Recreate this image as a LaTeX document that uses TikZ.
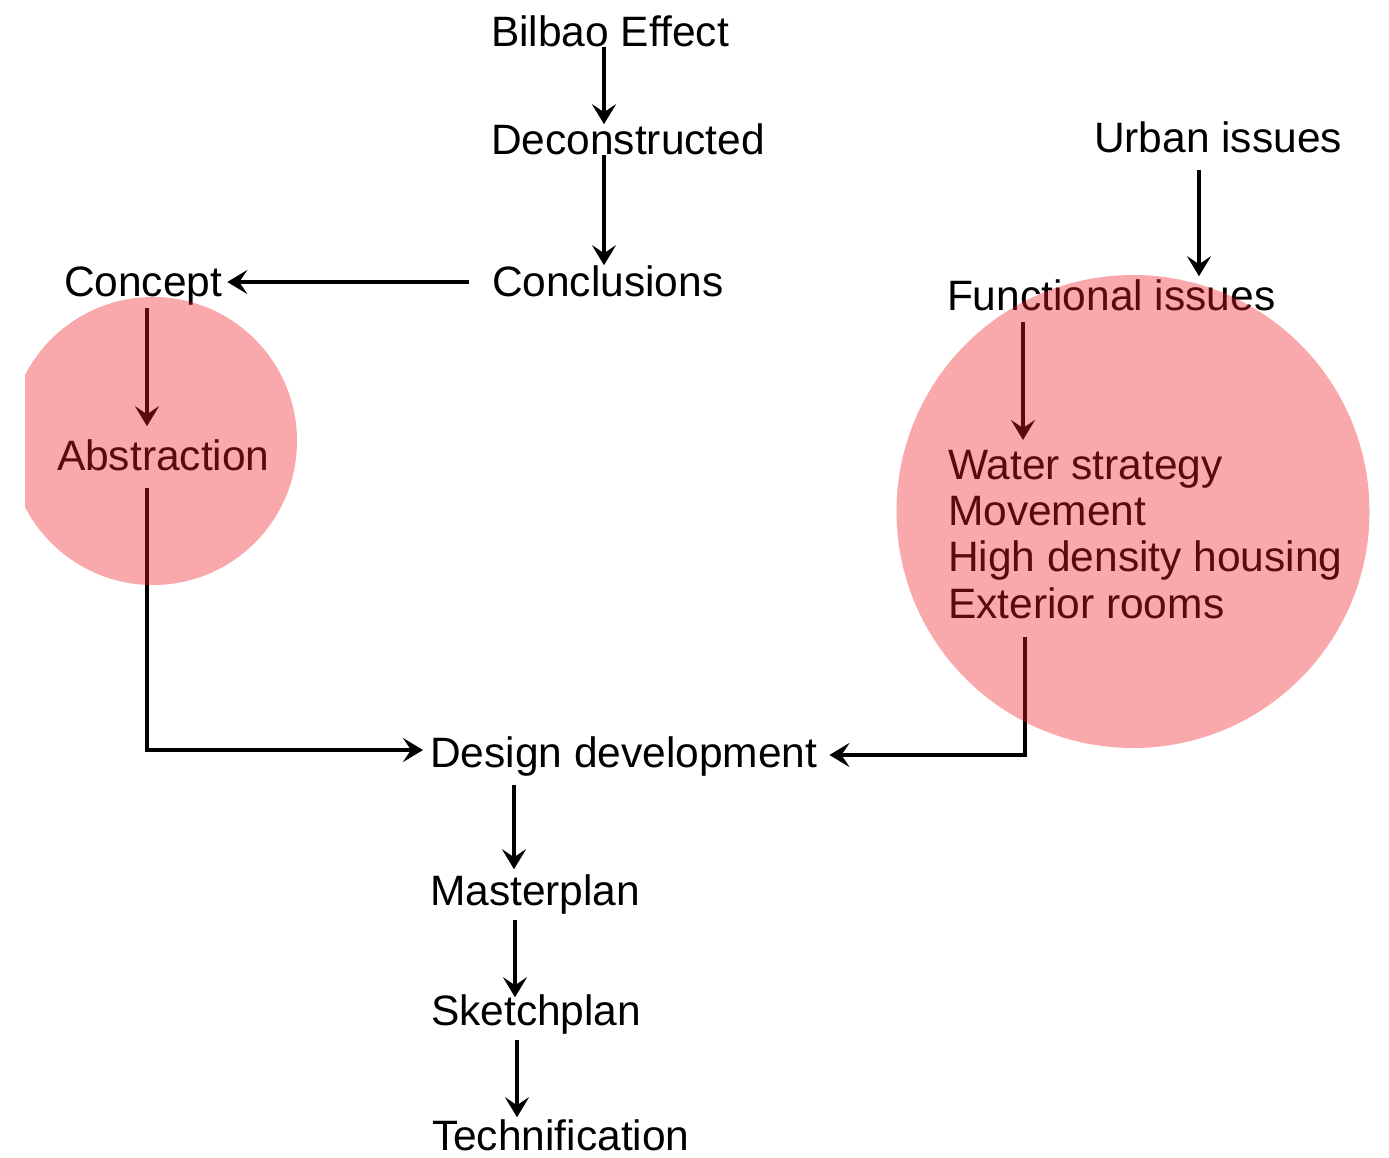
\documentclass[tikz,border=0pt]{standalone}
\usepackage{fontspec}
\setmainfont{Liberation Sans}
\usetikzlibrary{arrows.meta,calc}
\definecolor{blobred}{RGB}{240,25,35}
\begin{document}
\begin{tikzpicture}[x=1pt,y=-1pt,
  lbl/.style={inner sep=0pt,outer sep=0pt,anchor=base west,font=\fontsize{42.5}{46.3}\selectfont},
  arr/.style={line width=4.5pt,-{Stealth[length=20pt,width=24pt,inset=8pt]}},
  blob/.style={fill=blobred,fill opacity=0.38,draw=none}]
\useasboundingbox (0,0) rectangle (1389,1158);
% nodes
\node[lbl] (bilbao) at (491,47) {Bilbao Effect};
\node[lbl] (decon) at (491,155) {Deconstructed};
\node[lbl] (concl) at (492,297) {Conclusions};
\node[lbl] (urban) at (1094,153) {Urban issues};
\node[lbl] (func) at (947,310) {Functional issues};
\node[lbl] (concept) at (64,297) {Concept};
\node[lbl] (abstr) at (57,470) {Abstraction};
\node[lbl,anchor=north west,align=left] (list) at (948,450) {Water strategy\\Movement\\High density housing\\Exterior rooms};
\node[lbl] (design) at (430,767) {Design development};
\node[lbl] (master) at (430,905) {Masterplan};
\node[lbl] (sketch) at (431,1025) {Sketchplan};
\node[lbl] (techn) at (432,1150) {Technification};
% column coordinates
\coordinate (c604) at (604,0);
\coordinate (c1199) at (1199,0);
\coordinate (c1023) at (1023,0);
\coordinate (c1025) at (1025,0);
\coordinate (c147) at (147,0);
\coordinate (c514) at (514,0);
\coordinate (c515) at (515,0);
\coordinate (c517) at (517,0);
% connectors
\draw[arr] (bilbao.south -| c604) -- (decon.north -| c604);
\draw[arr] (decon.south -| c604) -- ([yshift=1pt]concl.north -| c604);
\coordinate (s1) at ([xshift=-23pt,yshift=15pt]concl.base west);
\coordinate (e1) at ([xshift=5pt]concept.east);
\draw[arr] (s1) -- (e1 |- s1);
\draw[arr] ([yshift=-2pt]concept.south -| c147) -- ([yshift=13pt]abstr.north -| c147);
\coordinate (e2) at ([xshift=-7pt,yshift=17pt]design.base west);
\draw[arr] ([yshift=-18pt]abstr.south -| c147) |- (e2);
\draw[arr] ([yshift=-17pt]urban.south -| c1199) -- ([yshift=3pt]func.north -| c1199);
\draw[arr] ([yshift=-12pt]func.south -| c1023) -- ([yshift=10pt]list.north -| c1023);
\coordinate (e3) at ([xshift=12pt,yshift=12pt]design.base east);
\draw[arr] ([yshift=-18pt]list.south -| c1025) |- (e3);
\draw[arr] ([yshift=-9pt]design.south -| c514) -- ([yshift=5pt]master.north -| c514);
\draw[arr] ([yshift=-6pt]master.south -| c515) -- ([yshift=-3pt]sketch.north -| c515);
\draw[arr] ([yshift=-6pt]sketch.south -| c517) -- ([yshift=2pt]techn.north -| c517);
% translucent circles on top
\begin{scope}
\clip (25,0) rectangle (1389,1158);
\fill[blob] (153,441) circle[radius=144];
\end{scope}
\fill[blob] (1133,511.5) circle[radius=236.5];
\end{tikzpicture}
\end{document}
